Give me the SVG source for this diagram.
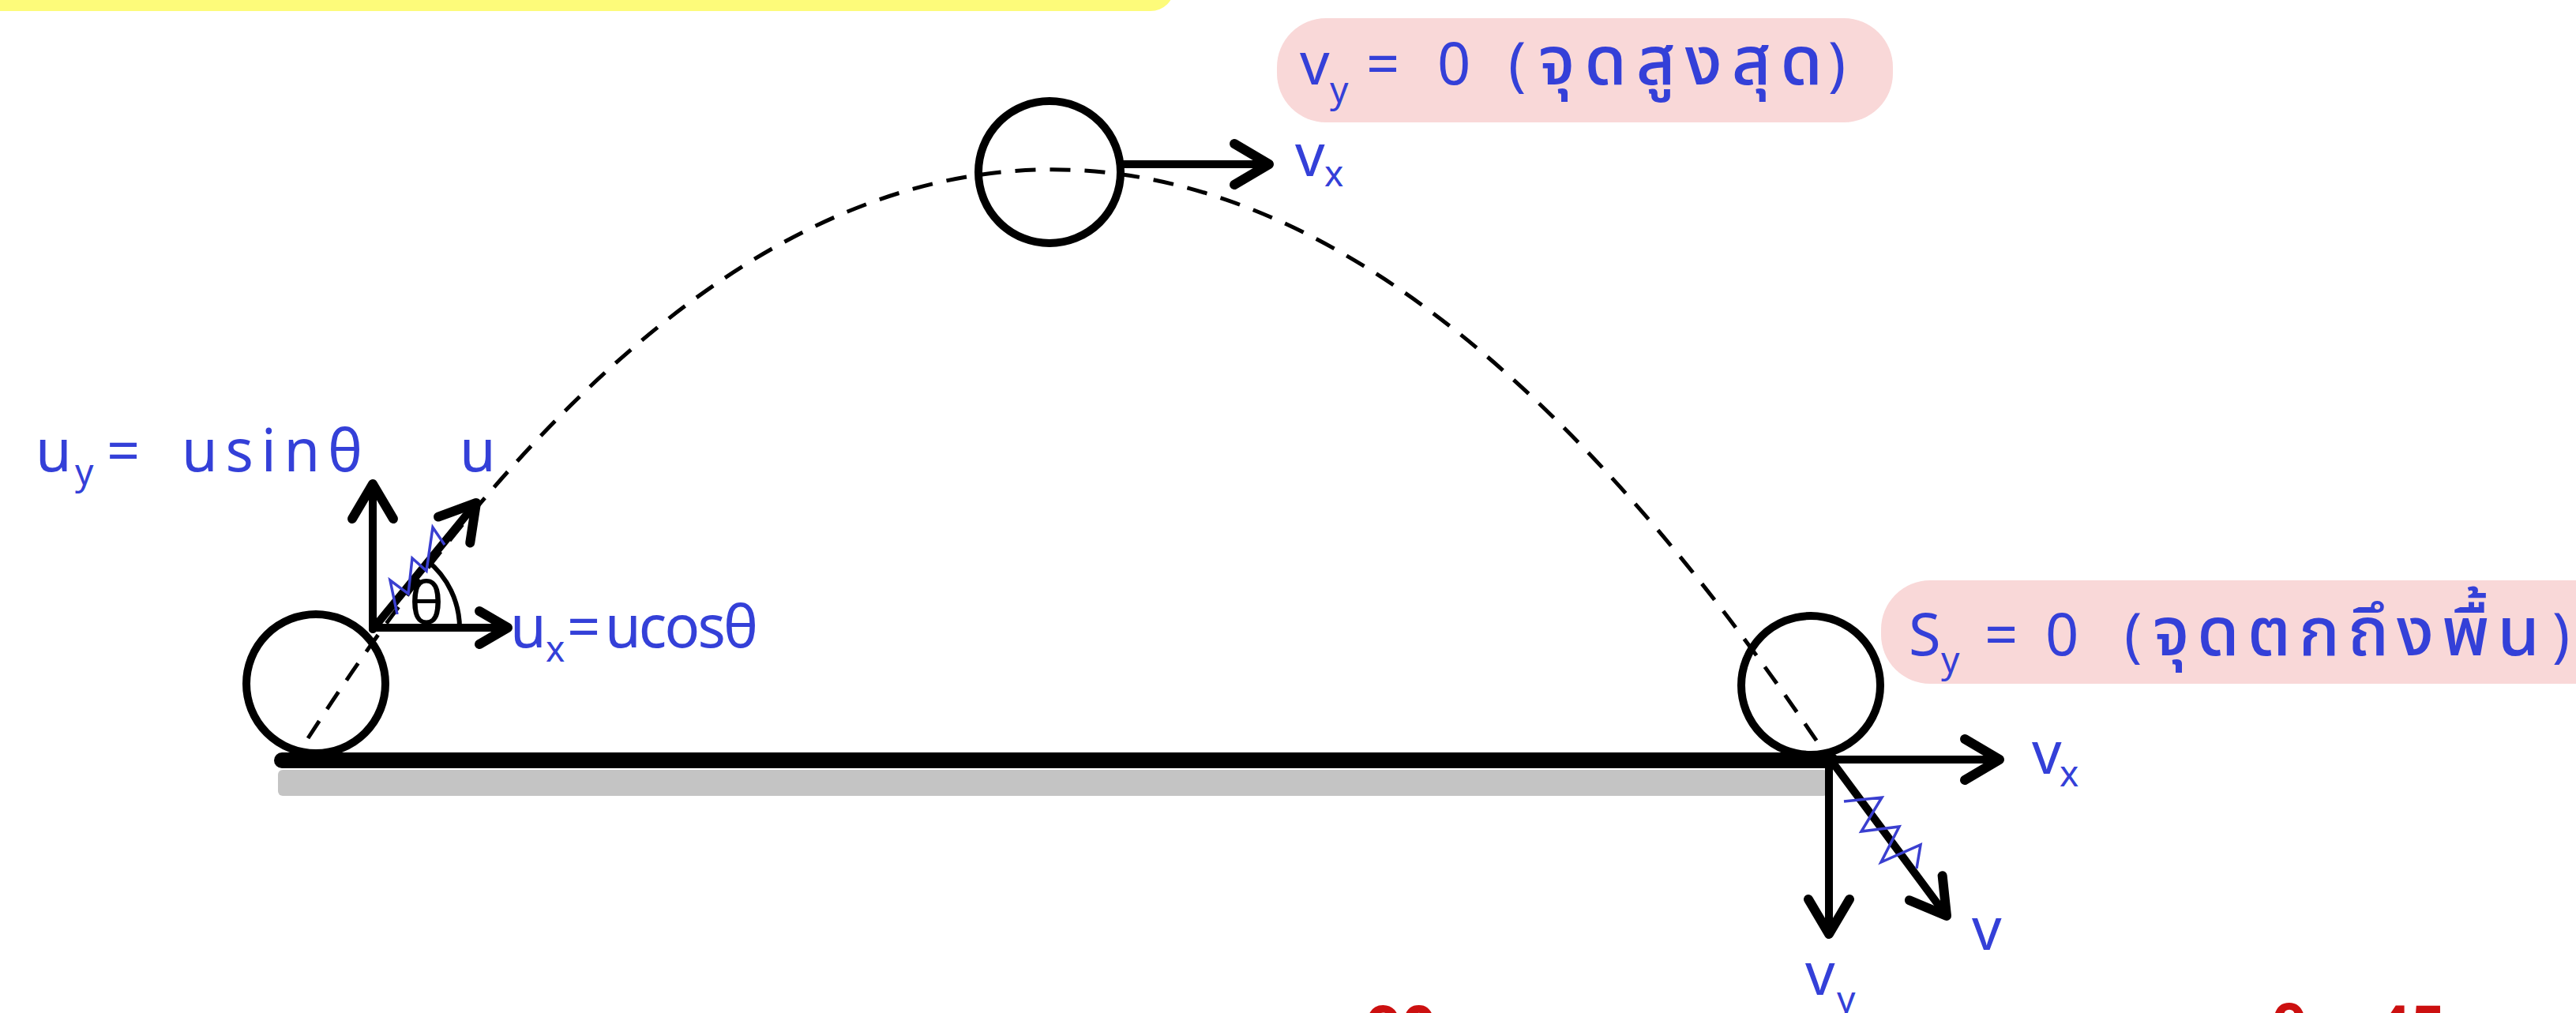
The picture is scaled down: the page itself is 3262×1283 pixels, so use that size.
<svg xmlns="http://www.w3.org/2000/svg" width="3262" height="1283" viewBox="0 0 3262 1283">
<defs>
<style>
.lbl{font-family:"Noto Sans","Open Sans","Noto Sans Thai","Loma","Garuda",sans-serif;fill:#3440D8;font-size:74px}
.sub{font-size:46px}
.th{font-family:"Noto Sans Thai","Noto Sans Thai Looped","Loma","Garuda","Kinnari","Noto Sans",sans-serif;font-size:86px;font-weight:500}
.ball{fill:none;stroke:#000;stroke-width:10}
.vec{stroke:#000;stroke-width:10;stroke-linecap:round;fill:none}
.zig{fill:none;stroke:#3A3FD0;stroke-width:3.5;stroke-linejoin:miter}
.red{font-family:"Noto Sans","Liberation Sans",sans-serif;fill:#CC1010;font-size:78px;font-weight:bold}
</style>
<marker id="ah" markerUnits="userSpaceOnUse" orient="auto" overflow="visible" markerWidth="1" markerHeight="1" refX="0" refY="0">
<path d="M-44,-26 L0,0 L-44,26" fill="none" stroke="#000" stroke-width="12" stroke-linecap="round" stroke-linejoin="round"/>
</marker>
<marker id="ahs" markerUnits="userSpaceOnUse" orient="auto" overflow="visible" markerWidth="1" markerHeight="1" refX="0" refY="0">
<path d="M-36,-21 L0,0 L-36,21" fill="none" stroke="#000" stroke-width="12" stroke-linecap="round" stroke-linejoin="round"/>
</marker>
</defs>
<rect width="3262" height="1283" fill="#fff"/>

<g id="banner">
<rect x="-40" y="-60" width="1527" height="74" rx="30" fill="#FDFB7A"/>
</g>

<g id="ground">
<rect x="352" y="975" width="1963" height="33" rx="6" fill="#C4C4C4"/>
<line x1="357" y1="963" x2="2318" y2="963" stroke="#000" stroke-width="20" stroke-linecap="round"/>
</g>

<g id="connectors">
<path id="trajectory" d="M390,935 Q1328,-518 2315,960" fill="none" stroke="#000" stroke-width="5" stroke-dasharray="26 18"/>
<line class="vec" x1="472" y1="797" x2="472" y2="613" marker-end="url(#ah)"/>
<line class="vec" x1="472" y1="795" x2="643" y2="795" marker-end="url(#ahs)"/>
<line class="vec" x1="472" y1="797" x2="603" y2="637" marker-end="url(#ah)"/>
<path d="M582,795 A110,110 0 0 0 541,710" fill="none" stroke="#000" stroke-width="6"/>
<line class="vec" x1="1420" y1="208" x2="1607" y2="208" marker-end="url(#ah)" stroke-width="12"/>
<line class="vec" x1="2318" y1="962" x2="2532" y2="962" marker-end="url(#ah)"/>
<line class="vec" x1="2316" y1="962" x2="2316" y2="1183" marker-end="url(#ah)"/>
<line class="vec" x1="2318" y1="962" x2="2465" y2="1160" marker-end="url(#ah)"/>
<polyline class="zig" points="503,778 494,735 517,752 522,707 540,723 548,668 563,690"/>
<polyline class="zig" points="2335,1015 2383,1010 2357,1053 2405,1047 2382,1092 2432,1070 2427,1100"/>
</g>

<g id="ball-start"><circle class="ball" cx="400" cy="866" r="88"/></g>
<g id="ball-top"><circle class="ball" cx="1329" cy="218" r="90"/></g>
<g id="ball-end"><circle class="ball" cx="2293" cy="868" r="88"/></g>

<g id="angle">
<text x="540" y="790" text-anchor="middle" font-family="Noto Sans, sans-serif" font-size="74" fill="#000">θ</text>
</g>

<g id="label-top">
<rect x="1617" y="23" width="780" height="132" rx="62" fill="#F9D8D8"/>
<text class="lbl" x="1646" y="107">v</text>
<text class="lbl sub" x="1684" y="130">y</text>
<text class="lbl" x="1730" y="107">=</text>
<text class="lbl" x="1820" y="107">0</text>
<text class="lbl" x="1910" y="107">(</text>
<text class="lbl th" x="1948" y="107" textLength="360" lengthAdjust="spacing">จุดสูงสุด</text>
<text class="lbl" x="2315" y="107">)</text>
</g>

<g id="label-vx-top">
<text class="lbl" x="1640" y="223">v</text>
<text class="lbl sub" x="1677" y="236">x</text>
</g>

<g id="label-uy">
<text class="lbl" x="45" y="597">u</text>
<text class="lbl sub" x="95" y="614">y</text>
<text class="lbl" x="135" y="597">=</text>
<text class="lbl" x="230" y="597" textLength="229" lengthAdjust="spacing">usinθ</text>
</g>

<g id="label-u">
<text class="lbl" x="582" y="597">u</text>
</g>

<g id="label-ux">
<text class="lbl" x="646" y="820">u</text>
<text class="lbl sub" x="691" y="838">x</text>
<text class="lbl" x="718" y="820">=</text>
<text class="lbl" x="766" y="820" textLength="194" lengthAdjust="spacing">ucosθ</text>
</g>

<g id="label-bottom">
<rect x="2382" y="735" width="960" height="131" rx="62" fill="#F9D8D8"/>
<text class="lbl" x="2417" y="830">S</text>
<text class="lbl sub" x="2458" y="852">y</text>
<text class="lbl" x="2513" y="830">=</text>
<text class="lbl" x="2590" y="830">0</text>
<text class="lbl" x="2690" y="830">(</text>
<text class="lbl th" x="2726" y="830" textLength="490" lengthAdjust="spacing">จุดตกถึงพื้น</text>
<text class="lbl" x="3232" y="830">)</text>
</g>

<g id="label-vx">
<text class="lbl" x="2573" y="980">v</text>
<text class="lbl sub" x="2608" y="996">x</text>
</g>
<g id="label-v">
<text class="lbl" x="2497" y="1203">v</text>
</g>
<g id="label-vy">
<text class="lbl" x="2286" y="1260">v</text>
<text class="lbl sub" x="2326" y="1282">y</text>
</g>

<g id="red-bottom">
<text class="red" x="1730" y="1330">90</text>
<text class="red" x="2875" y="1330">θ = 45</text>
</g>
</svg>
